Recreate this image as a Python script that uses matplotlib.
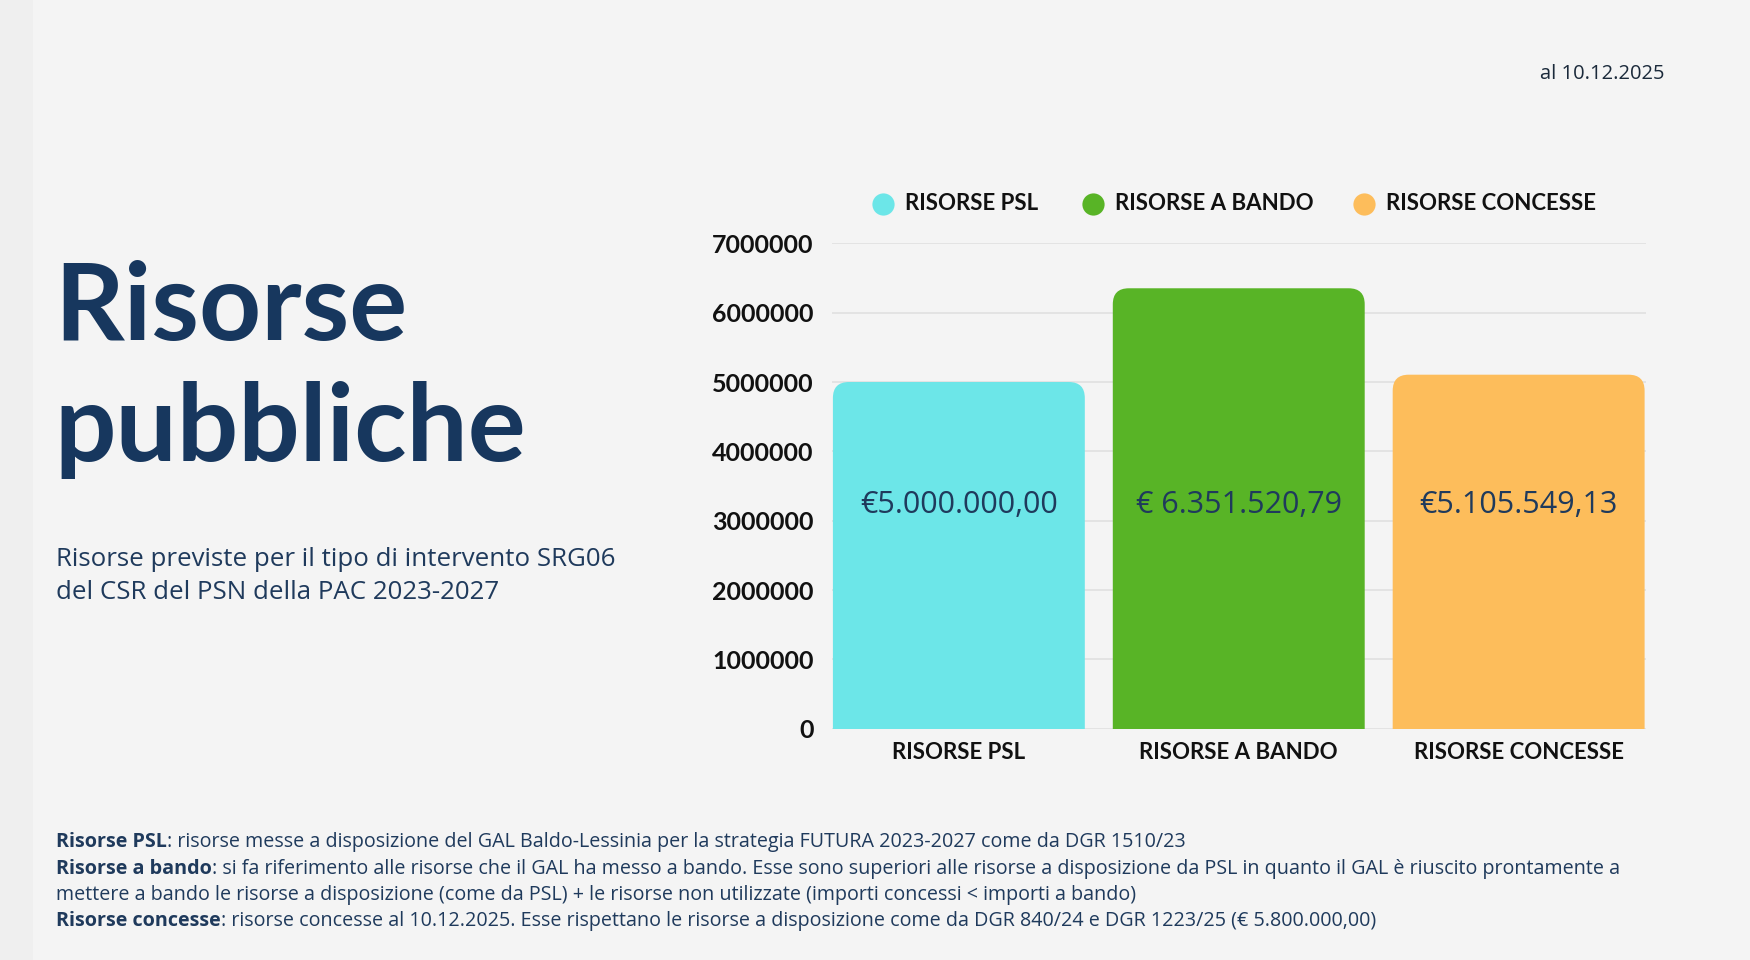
import matplotlib
matplotlib.use("Agg")
import matplotlib.pyplot as plt
from matplotlib.patches import FancyBboxPatch, Rectangle
from matplotlib.lines import Line2D
from matplotlib.transforms import IdentityTransform

# ---------------- data ----------------
categories = ["RISORSE PSL", "RISORSE A BANDO", "RISORSE CONCESSE"]
values = [5000000.00, 6351520.79, 5105549.13]
value_labels = ["€5.000.000,00", "€ 6.351.520,79", "€5.105.549,13"]
colors = ["#6ce6e8", "#58b426", "#fdbd5b"]
y_ticks = [0, 1000000, 2000000, 3000000, 4000000, 5000000, 6000000, 7000000]
y_tick_labels = [str(v) for v in y_ticks]

title_lines = ["Risorse", "pubbliche"]
subtitle_lines = ["Risorse previste per il tipo di intervento SRG06",
                  "del CSR del PSN della PAC 2023-2027"]
date_label = "al 10.12.2025"
footer_lines = [
    ("Risorse PSL", ": risorse messe a disposizione del GAL Baldo-Lessinia per la strategia FUTURA 2023-2027 come da DGR 1510/23"),
    ("Risorse a bando", ": si fa riferimento alle risorse che il GAL ha messo a bando. Esse sono superiori alle risorse a disposizione da PSL in quanto il GAL è riuscito prontamente a"),
    ("", "mettere a bando le risorse a disposizione (come da PSL) + le risorse non utilizzate (importi concessi < importi a bando)"),
    ("Risorse concesse", ": risorse concesse al 10.12.2025. Esse rispettano le risorse a disposizione come da DGR 840/24 e DGR 1223/25 (€ 5.800.000,00)"),
]

# ---------------- style ----------------
W, H = 1750, 960
BG = "#f4f4f4"
NAVY = "#17375e"
TEXT_NAVY = "#1f3a5c"
DARK = "#111111"
LBL_FONT = "Lato"
BODY_FONT = "Open Sans"

fig = plt.figure(figsize=(W / 100, H / 100), dpi=100, facecolor=BG)

# subtle darker left margin strip like the slide page
fig.add_artist(Rectangle((0, 0), 33 / W, 1, transform=fig.transFigure,
                         facecolor="#efefef", edgecolor="none", zorder=0))

def fx(px):
    return px / W

def fy(py):
    return 1 - py / H

ax_left, ax_right, ax_bottom, ax_top = 831.5, 1646, 728.8, 243.3
ax = fig.add_axes([fx(ax_left), fy(ax_bottom), (ax_right - ax_left) / W, (ax_bottom - ax_top) / H])
ax.set_facecolor("none")
x = list(range(len(categories)))
bars = ax.bar(x, values, width=0.9, color=colors, zorder=2)
ax.set_xlim(-0.455, 2.455)
ax.set_ylim(0, 7000000)
ax.set_yticks(y_ticks)
ax.set_yticklabels(y_tick_labels, fontfamily=LBL_FONT, fontweight="bold", fontsize=18, color=DARK)
ax.set_xticks(x)
ax.set_xticklabels(categories, fontfamily=LBL_FONT, fontweight="bold", fontsize=16, color=DARK)
ax.tick_params(axis="y", length=0, pad=13)
ax.tick_params(axis="x", length=0, pad=9.5)
for s in ax.spines.values():
    s.set_visible(False)
ax.yaxis.grid(True, color="#dedede", linewidth=1.1, zorder=0)
ax.set_axisbelow(True)

# rounded top corners: rebuild each bar in pixel space, clip bottom rounding at axis
radius = 16
for b, c in zip(bars, colors):
    bb = b.get_window_extent()
    b.set_visible(False)
    p = FancyBboxPatch((bb.x0, bb.y0 - radius - 2), bb.width, bb.height + radius + 2,
                       boxstyle=f"round,pad=0,rounding_size={radius}",
                       transform=IdentityTransform(), facecolor=c, edgecolor="none",
                       zorder=2)
    p.set_clip_box(ax.bbox)
    ax.add_artist(p)

# value labels inside bars
label_y = 3220000
for xi, lbl in zip(x, value_labels):
    ax.text(xi, label_y, lbl, ha="center", va="center", fontfamily=BODY_FONT,
            fontsize=22, color=TEXT_NAVY, zorder=3)

# legend (manual, matching reference layout)
leg_circle_x = [883, 1093, 1364]
leg_text_x = [905, 1115, 1386]
leg_y = 204
for cx, tx, lbl, c in zip(leg_circle_x, leg_text_x, categories, colors):
    fig.add_artist(Line2D([fx(cx)], [fy(leg_y)], marker="o", markersize=16,
                          markerfacecolor=c, markeredgecolor="none", linestyle="none",
                          transform=fig.transFigure))
    fig.text(fx(tx), fy(leg_y), lbl, ha="left", va="center", fontfamily=LBL_FONT,
             fontweight="bold", fontsize=16, color=DARK)

# title + subtitle + date
title_baselines = [340, 461]
for ln, by in zip(title_lines, title_baselines):
    fig.text(fx(54), fy(by), ln, ha="left", va="baseline", fontfamily=LBL_FONT,
             fontweight="bold", fontsize=78, color=NAVY)
sub_baselines = [566, 599]
for ln, by in zip(subtitle_lines, sub_baselines):
    fig.text(fx(56), fy(by), ln, ha="left", va="baseline", fontfamily=BODY_FONT,
             fontsize=18.6, color=TEXT_NAVY)
fig.text(fx(1664), fy(79), date_label, ha="right", va="baseline", fontfamily=BODY_FONT,
         fontsize=14.5, color="#1b2a3b")

# footer with bold prefixes
foot_baselines = [847, 874, 900, 926]
for (bold, rest), by in zip(footer_lines, foot_baselines):
    if bold:
        t = fig.text(fx(56), fy(by), bold, ha="left", va="baseline", fontfamily=BODY_FONT,
                     fontweight="bold", fontsize=14.2, color=TEXT_NAVY)
        fig.canvas.draw()
        ext = t.get_window_extent()
        fig.text(ext.x1 / W, fy(by), rest, ha="left", va="baseline", fontfamily=BODY_FONT,
                 fontsize=14.2, color=TEXT_NAVY)
    else:
        fig.text(fx(56), fy(by), rest, ha="left", va="baseline", fontfamily=BODY_FONT,
                 fontsize=14.2, color=TEXT_NAVY)

fig.savefig("out.png", dpi=100, facecolor=BG)
